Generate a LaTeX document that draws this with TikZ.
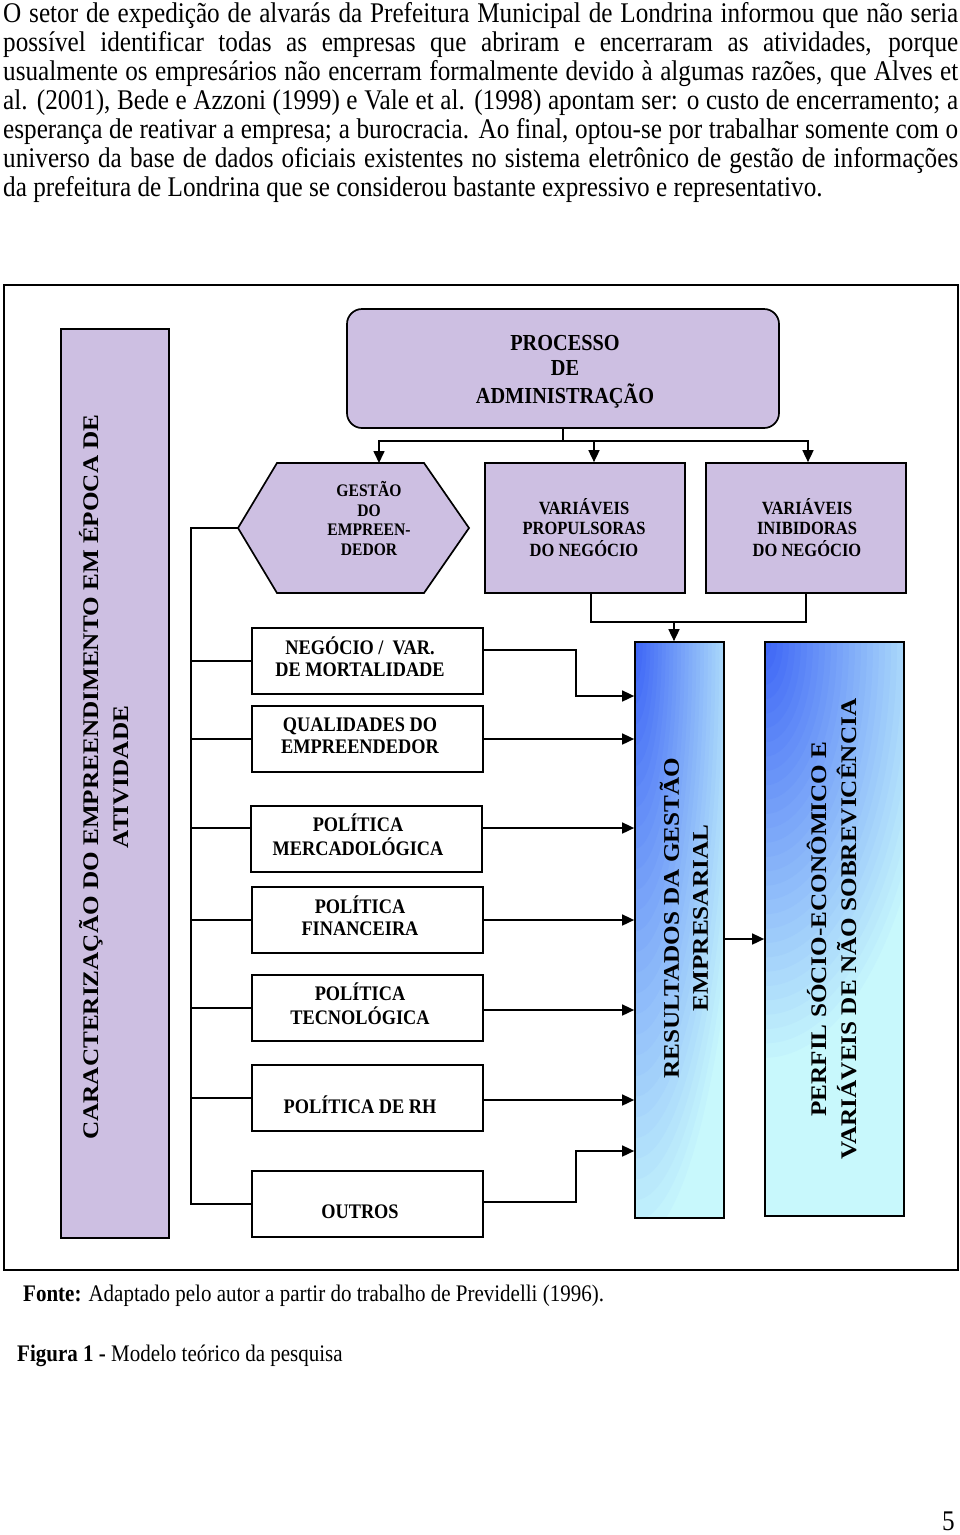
\documentclass[tikz,border=0pt]{standalone}
\usepackage{fontspec}
\setmainfont{Liberation Serif}
\usetikzlibrary{arrows.meta,calc}
\definecolor{lav}{HTML}{CDBFE2}
\definecolor{bblue}{HTML}{3A62F6}
\definecolor{bcyan}{HTML}{C8F8FC}
\newcommand{\vst}[1]{\scalebox{1}[1.13]{#1}}
\newcommand{\hst}[1]{\scalebox{1.13}[1]{#1}}
\newcommand{\cl}[1]{\begin{tabular}{@{}c@{}}#1\end{tabular}}
% manual corner glow: #1 = x radius, #2 = y radius (in pt)
\newcommand{\cornerglow}[2]{%
  \foreach \i in {30,29,...,1}{%
    \pgfmathsetmacro{\pc}{100-\i*10/3}%
    \pgfmathsetmacro{\ra}{#1/30*\i}%
    \pgfmathsetmacro{\rb}{#2/30*\i}%
    \fill[bblue!\pc!bcyan] (path picture bounding box.north west) ellipse ({\ra pt} and {\rb pt});%
  }}
\begin{document}
\begin{tikzpicture}[x=1pt,y=-1pt,
  pbox/.style={draw=black, line width=1.7pt, fill=lav, inner sep=0pt},
  wbox/.style={draw=black, line width=1.7pt, fill=white, minimum width=231pt, minimum height=66pt, inner sep=0pt},
  gbox/.style={draw=black, line width=1.7pt, fill=bcyan, inner sep=0pt},
  conn/.style={line width=1.6pt},
  arr/.style={line width=1.6pt, -{Triangle[length=12pt,width=11pt]}},
  para/.style={anchor=base west, inner sep=0pt, font=\fontsize{25.2}{29}\selectfont},
  lbl/.style={inner sep=0pt, font=\bfseries\fontsize{18.3}{19.5}\selectfont},
  vlbl/.style={inner sep=0pt, rotate=90, font=\bfseries\fontsize{22.3}{30}\selectfont}
]
\path[use as bounding box, fill=white] (0,0) rectangle (960,1535);

% paragraph
\node[para] (p1) at (3,22) {\vst{\makebox[955pt][s]{O setor de expedição de alvarás da Prefeitura Municipal de Londrina informou que não seria}}};
\node[para] (p2) at (3,51) {\vst{\makebox[955pt][s]{possível identificar todas as empresas que abriram e encerraram as atividades, porque}}};
\node[para] (p3) at (3,80) {\vst{\makebox[955pt][s]{usualmente os empresários não encerram formalmente devido à algumas razões, que Alves et}}};
\node[para] (p4) at (3,109) {\vst{\makebox[955pt][s]{al. (2001), Bede e Azzoni (1999) e Vale et al. (1998) apontam ser: o custo de encerramento; a}}};
\node[para] (p5) at (3,138) {\vst{\makebox[955pt][s]{esperança de reativar a empresa; a burocracia. Ao final, optou-se por trabalhar somente com o}}};
\node[para] (p6) at (3,167) {\vst{\makebox[955pt][s]{universo da base de dados oficiais existentes no sistema eletrônico de gestão de informações}}};
\node[para] (p7) at (3,196) {\vst{da prefeitura de Londrina que se considerou bastante expressivo e representativo.}};

% frame
\node[draw=black, line width=1.7pt, minimum width=954pt, minimum height=985pt, inner sep=0pt] (frame) at (481,777.5) {};

% left column
\node[pbox, minimum width=108pt, minimum height=909pt] (col) at (115,783.5) {};
\node[vlbl] (colt) at (107,777) {\hst{\cl{CARACTERIZAÇÃO DO EMPREENDIMENTO EM ÉPOCA DE\\ATIVIDADE}}};

% process box
\node[pbox, rounded corners=15pt, minimum width=432pt, minimum height=119pt] (proc) at (563,368.5) {};
\node[inner sep=0pt, font=\bfseries\fontsize{20.3}{22.1}\selectfont] (proct) at (565,372) {\vst{\cl{PROCESSO\\DE\\ADMINISTRAÇÃO}}};

% hexagon
\coordinate (hl) at (238,528);
\coordinate (htop) at (379,463);
\draw[pbox] (hl) -- (277,463) -- (424,463) -- (469,528) -- (424,593) -- (277,593) -- cycle;
\node[inner sep=0pt, font=\bfseries\fontsize{15.6}{17.3}\selectfont] (hext) at (369,521.5) {\vst{\cl{GESTÃO\\DO\\EMPREEN-\\DEDOR}}};

% variables boxes
\node[pbox, minimum width=200pt, minimum height=130pt] (prop) at (585,528) {};
\node[inner sep=0pt, font=\bfseries\fontsize{16.5}{17.3}\selectfont] (propt) at (584,530.5) {\vst{\cl{VARIÁVEIS\\PROPULSORAS\\DO NEGÓCIO}}};
\node[pbox, minimum width=200pt, minimum height=130pt] (inib) at (806,528) {};
\node[inner sep=0pt, font=\bfseries\fontsize{16.5}{17.3}\selectfont] (inibt) at (807,530.5) {\vst{\cl{VARIÁVEIS\\INIBIDORAS\\DO NEGÓCIO}}};

% gradient boxes
\node[gbox, minimum width=89pt, minimum height=576pt,
  path picture={\cornerglow{115}{620}}] (res) at (679.5,930) {};
\node[vlbl, font=\bfseries\fontsize{22.3}{29}\selectfont] (rest) at (687.5,918) {\hst{\cl{RESULTADOS DA GESTÃO\\EMPRESARIAL}}};
\node[gbox, minimum width=139pt, minimum height=574pt,
  path picture={\cornerglow{180}{430}}] (perf) at (834.5,929) {};
\node[vlbl] (perft) at (835,929) {\hst{\cl{PERFIL SÓCIO-ECONÔMICO E\\VARIÁVEIS DE NÃO SOBREVICÊNCIA}}};

% list boxes
\node[wbox] (b1) at (367.5,661) {};
\node[wbox] (b2) at (367.5,739) {};
\node[wbox] (b3) at (366.5,839) {};
\node[wbox] (b4) at (367.5,920) {};
\node[wbox] (b5) at (367.5,1008) {};
\node[wbox] (b6) at (367.5,1098) {};
\node[wbox] (b7) at (367.5,1204) {};
\node[lbl] (t1) at (360,660) {\vst{\cl{NEGÓCIO / \ VAR.\\DE MORTALIDADE}}};
\node[lbl] (t2) at (360,738) {\vst{\cl{QUALIDADES DO\\EMPREENDEDOR}}};
\node[lbl] (t3) at (358,838) {\vst{\cl{POLÍTICA\\MERCADOLÓGICA}}};
\node[lbl] (t4) at (360,919) {\vst{\cl{POLÍTICA\\FINANCEIRA}}};
\node[lbl] (t5) at (360,1007) {\vst{\cl{POLÍTICA\\TECNOLÓGICA}}};
\node[lbl] (t6) at (360,1108) {\vst{\cl{POLÍTICA DE RH}}};
\node[lbl] (t7) at (360,1214) {\vst{\cl{OUTROS}}};

% top connectors
\draw[conn] (proc.south) -- (proc.south |- 0,441) coordinate (hj);
\draw[arr] (hj) -| (htop);
\draw[arr] (hj) -| ($(prop.north)+(9,0)$);
\draw[arr] (hj) -| ($(inib.north)+(2,0)$);

% bottom of variable boxes
\coordinate (pj) at (674,621);
\draw[conn] ($(prop.south)+(6,0)$) -- ++(0,28) -| (inib.south);
\draw[arr] (pj) -- (pj |- res.north);

% left bus
\coordinate (bus) at (191,0);
\draw[conn] (hl) -| (bus |- b7.west) -- (b7.west);
\draw[conn] (bus |- b1.west) -- (b1.west);
\draw[conn] (bus |- b2.west) -- (b2.west);
\draw[conn] (bus |- 0,828) -- (b3.west |- 0,828);
\draw[conn] (bus |- b4.west) -- (b4.west);
\draw[conn] (bus |- b5.west) -- (b5.west);
\draw[conn] (bus |- b6.west) -- (b6.west);

% right connectors
\coordinate (rb) at (576,0);
\draw[arr] (b1.east |- 0,650) -| (rb |- 0,696) -- (res.west |- 0,696);
\draw[arr] (b2.east |- 0,739) -- (res.west |- 0,739);
\draw[arr] (b3.east |- 0,828) -- (res.west |- 0,828);
\draw[arr] (b4.east |- 0,920) -- (res.west |- 0,920);
\draw[arr] (b5.east |- 0,1010) -- (res.west |- 0,1010);
\draw[arr] (b6.east |- 0,1100) -- (res.west |- 0,1100);
\draw[arr] (b7.east |- 0,1202) -| (rb |- 0,1151) -- (res.west |- 0,1151);
\draw[arr] (res.east |- 0,939) -- (perf.west |- 0,939);

% captions
\node[anchor=base west, inner sep=0pt, font=\fontsize{21}{24}\selectfont] (fonte) at (23,1301) {\vst{\textbf{Fonte:} Adaptado pelo autor a partir do trabalho de Previdelli (1996).}};
\node[anchor=base west, inner sep=0pt, font=\fontsize{21}{24}\selectfont] (fig) at (17,1361) {\vst{\textbf{Figura 1 -} Modelo teórico da pesquisa}};
\node[anchor=base east, inner sep=0pt, font=\fontsize{25.2}{29}\selectfont] (pg) at (955,1530) {\vst{5}};
\end{tikzpicture}
\end{document}
